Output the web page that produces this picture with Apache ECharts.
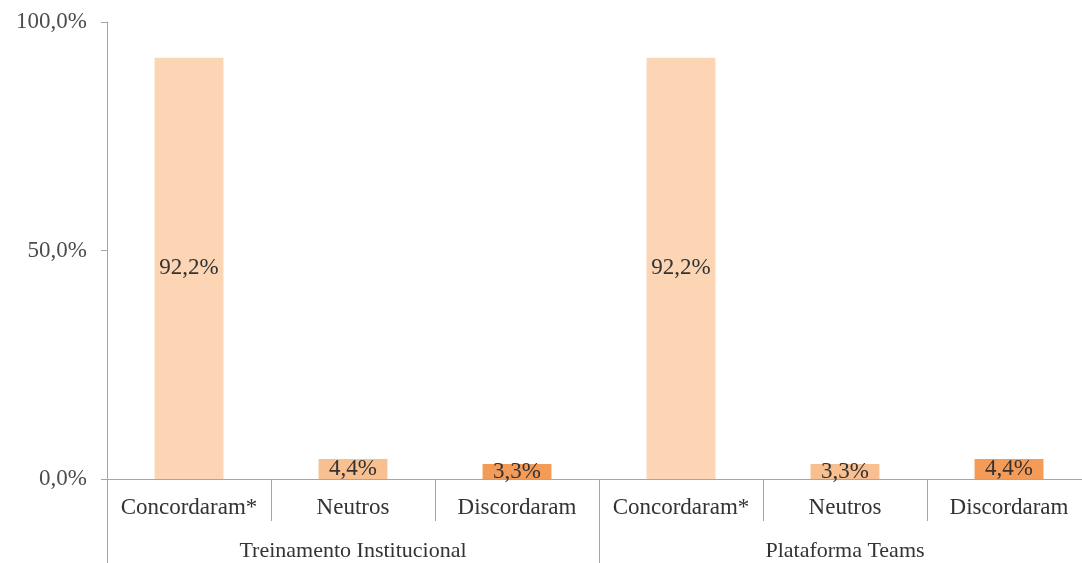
<!DOCTYPE html>
<html>
<head>
<meta charset="utf-8">
<script src="https://cdn.jsdelivr.net/npm/echarts@6/dist/echarts.min.js"></script>
<style>
  html, body { margin: 0; padding: 0; background: #ffffff; }
  #chart { width: 1082px; height: 563px; }
</style>
</head>
<body>
<div id="chart"></div>
<script>
// Survey responses per topic (percent)
const groups = ['Treinamento Institucional', 'Plataforma Teams'];
const responses = ['Concordaram*', 'Neutros', 'Discordaram'];
const treinamento = [92.2, 4.4, 3.3];
const teams = [92.2, 3.3, 4.4];
const responseColors = ['#FCD5B5', '#F8BF90', '#F49B58'];
const yTicks = [0, 50, 100];

const FONT = '"Liberation Serif", "Times New Roman", serif';
const AXIS_GRAY = '#a6a6a6';

const fmt = v => v.toFixed(1).replace('.', ',') + '%';

// Flatten groups x responses into one category axis
const categories = [];
const barData = [];
[treinamento, teams].forEach(vals => {
  vals.forEach((v, i) => {
    categories.push(responses[i]);
    barData.push({ value: v, itemStyle: { color: responseColors[i] } });
  });
});

const chart = echarts.init(document.getElementById('chart'));
chart.setOption({
  backgroundColor: '#ffffff',
  animation: false,
  grid: { left: 107, width: 984, top: 22, bottom: 84, outerBoundsMode: 'none', containLabel: false },
  xAxis: [
    {
      type: 'category',
      data: categories,
      position: 'bottom',
      axisLine: { show: true, lineStyle: { color: AXIS_GRAY, width: 1 } },
      axisTick: { show: true, interval: 0, length: 42, lineStyle: { color: AXIS_GRAY } },
      axisLabel: { interval: 0, margin: 17, fontFamily: FONT, fontSize: 23, color: '#333333' }
    },
    {
      type: 'category',
      data: groups,
      position: 'bottom',
      axisLine: { show: false },
      axisTick: { show: true, interval: 0, length: 90, lineStyle: { color: AXIS_GRAY } },
      axisLabel: { interval: 0, margin: 61, fontFamily: FONT, fontSize: 22, color: '#333333' }
    }
  ],
  yAxis: {
    type: 'value',
    min: yTicks[0],
    max: yTicks[yTicks.length - 1],
    interval: yTicks[1] - yTicks[0],
    axisLine: { show: true, lineStyle: { color: AXIS_GRAY, width: 1 } },
    axisTick: { show: true, length: 6, lineStyle: { color: AXIS_GRAY } },
    splitLine: { show: false },
    axisLabel: { margin: 20, fontFamily: FONT, fontSize: 23, color: '#4d4d4d', formatter: v => fmt(v) }
  },
  series: [{
    type: 'bar',
    xAxisIndex: 0,
    data: barData,
    barWidth: '42%',
    label: {
      show: true,
      position: 'inside',
      fontFamily: FONT,
      fontSize: 23,
      color: '#333333',
      formatter: p => fmt(p.value)
    }
  }]
});
</script>
</body>
</html>
